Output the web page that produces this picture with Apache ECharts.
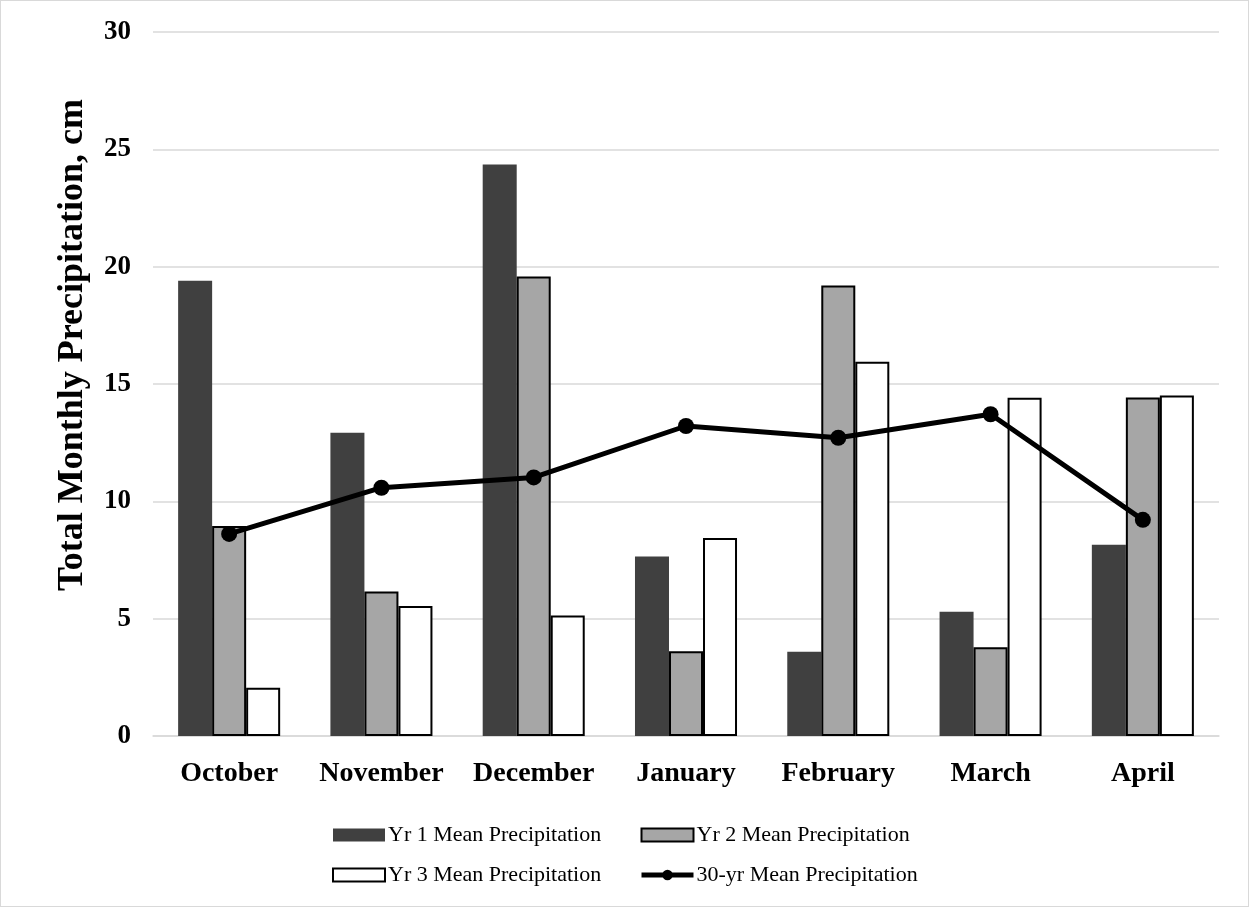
<!DOCTYPE html>
<html>
<head>
<meta charset="utf-8">
<script src="https://cdn.jsdelivr.net/npm/echarts@6/dist/echarts.min.js"></script>
<style>
    html, body { margin: 0; padding: 0; background: #fff; }
    #main { width: 1247px; height: 905px; border: 1px solid #d9d9d9; }
</style>
</head>
<body>
<div id="main"></div>
<script>
// 月份
var months = ['October', 'November', 'December', 'January', 'February', 'March', 'April'];
// 三年降水 + 30年均值 (cm)
var yr1 = [19.4, 12.92, 24.35, 7.65, 3.59, 5.29, 8.15];
var yr2 = [8.95, 6.16, 19.58, 3.61, 19.2, 3.78, 14.43];
var yr3 = [2.06, 5.54, 5.14, 8.44, 15.95, 14.41, 14.51];
var mean30 = [8.61, 10.58, 11.02, 13.21, 12.71, 13.71, 9.21];
var yTicks = [0, 5, 10, 15, 20, 25, 30];

var serif = '"Liberation Serif", "Times New Roman", serif';

function chartShow() {
    var myChart = echarts.init(document.getElementById('main'));
    var legendText = { fontFamily: serif, fontSize: 22, color: '#000', padding: [0, 0, 0, -2] };
    var option = {
        animation: false,
        grid: { left: 152, right: 29, top: 31, bottom: 170 },
        legend: [
            {
                data: [
                    { name: 'Yr 1 Mean Precipitation', icon: 'rect' },
                    { name: 'Yr 3 Mean Precipitation', icon: 'rect' }
                ],
                orient: 'vertical', left: 326, top: 818, itemGap: 18,
                itemWidth: 52, itemHeight: 13, textStyle: legendText
            },
            {
                data: [
                    { name: 'Yr 2 Mean Precipitation', icon: 'rect' },
                    { name: '30-yr Mean Precipitation', lineStyle: { width: 5 } }
                ],
                orient: 'vertical', left: 633, top: 818, itemGap: 18,
                itemWidth: 52, itemHeight: 13, textStyle: legendText
            }
        ],
        xAxis: {
            type: 'category',
            data: months,
            axisLine: { lineStyle: { color: '#d9d9d9', width: 1.5 } },
            axisTick: { show: false },
            axisLabel: { interval: 0, fontFamily: serif, fontSize: 28, fontWeight: 'bold', color: '#000', margin: 24 }
        },
        yAxis: {
            type: 'value',
            min: yTicks[0], max: yTicks[yTicks.length - 1], interval: 5,
            name: 'Total Monthly Precipitation, cm',
            nameLocation: 'center',
            nameGap: 62,
            nameTextStyle: { fontFamily: serif, fontSize: 36, fontWeight: 'bold', color: '#000', padding: [0, 0, 0, 78] },
            axisLine: { show: false },
            axisTick: { show: false },
            axisLabel: { fontFamily: serif, fontSize: 27, fontWeight: 'bold', color: '#000', margin: 22 },
            splitLine: { lineStyle: { color: '#d9d9d9', width: 1.5 } }
        },
        series: [
            {
                name: 'Yr 1 Mean Precipitation', type: 'bar', data: yr1,
                barGap: '0%', barCategoryGap: '33%',
                itemStyle: { color: '#404040' }
            },
            {
                name: 'Yr 2 Mean Precipitation', type: 'bar', data: yr2,
                itemStyle: { color: '#a6a6a6', borderColor: '#000', borderWidth: 2 }
            },
            {
                name: 'Yr 3 Mean Precipitation', type: 'bar', data: yr3,
                itemStyle: { color: '#fff', borderColor: '#000', borderWidth: 2 }
            },
            {
                name: '30-yr Mean Precipitation', type: 'line', data: mean30,
                symbol: 'circle', symbolSize: 16,
                lineStyle: { color: '#000', width: 5 },
                itemStyle: { color: '#000' },
                z: 5
            }
        ]
    };
    myChart.setOption(option);
}

chartShow();
</script>
</body>
</html>
